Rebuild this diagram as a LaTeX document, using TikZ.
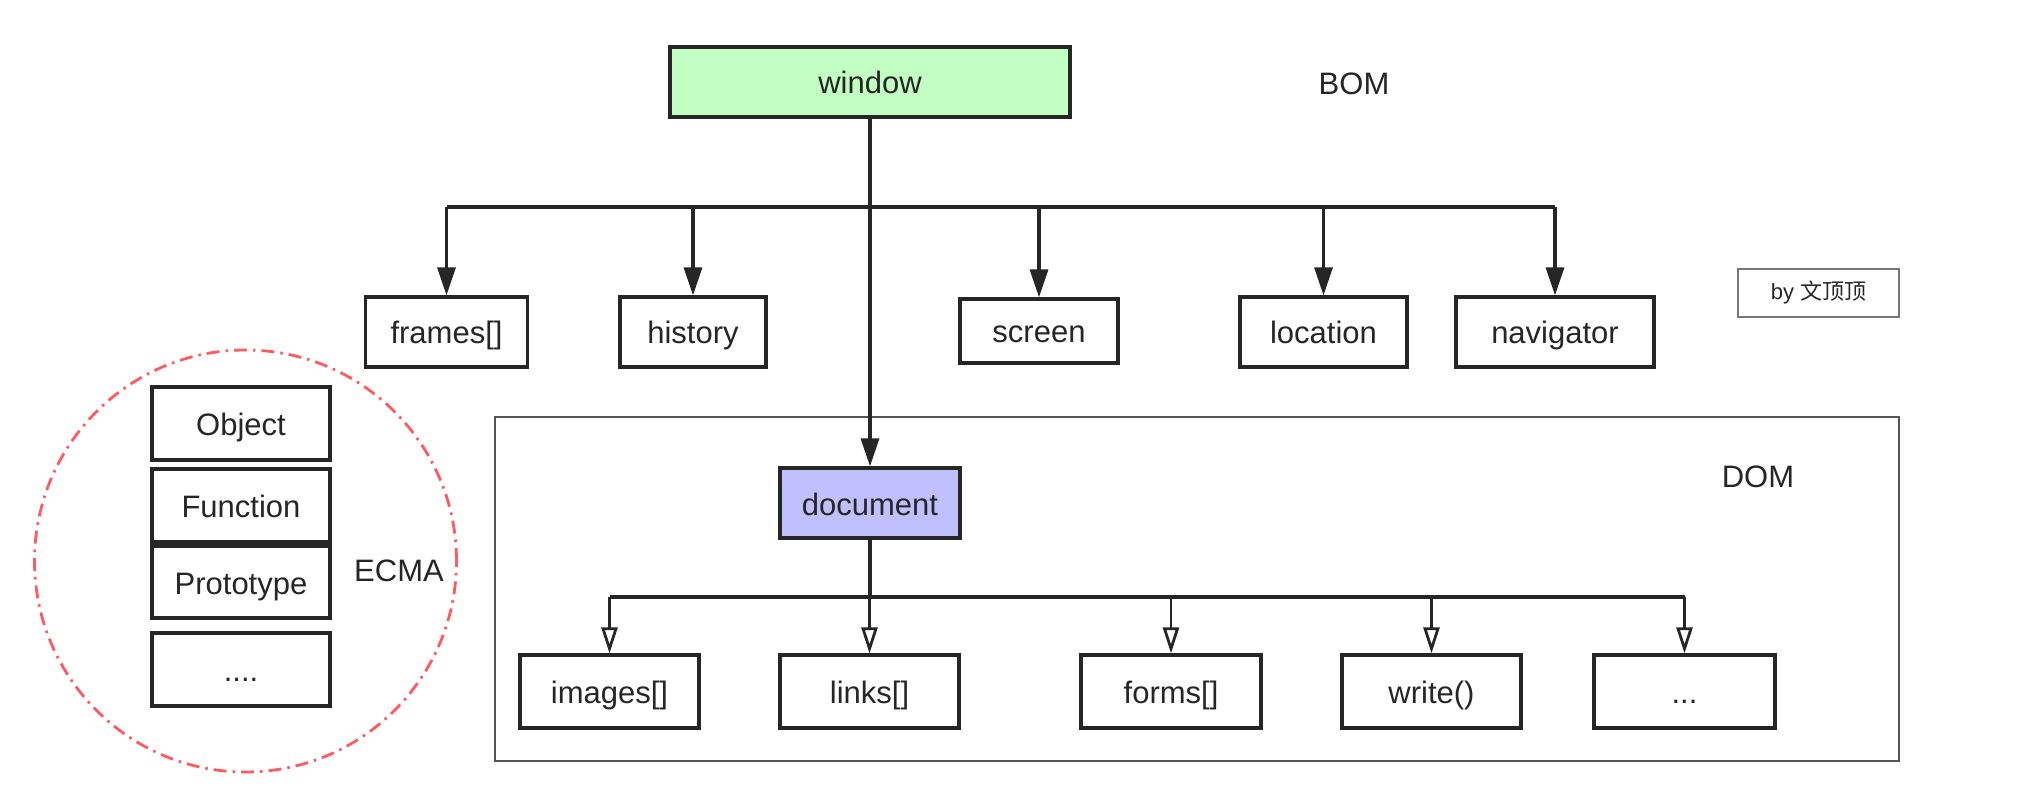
\documentclass[tikz,border=0pt]{standalone}
\usepackage{fontspec}
\setmainfont{Liberation Sans}
\newfontfamily\cjk{Noto Sans CJK SC}
\usetikzlibrary{arrows.meta}
\definecolor{ink}{HTML}{262626}
\definecolor{wingreen}{HTML}{C2FFC2}
\definecolor{doclav}{HTML}{C0C0FF}
\definecolor{ecmared}{HTML}{FF5A60}
\definecolor{frame}{HTML}{555555}
\begin{document}
\begin{tikzpicture}[x=1pt,y=-1pt,
  txt/.style={font=\fontsize{31}{36}\selectfont, text=ink, text height=27pt, text depth=3pt},
  box/.style={txt, draw=ink, line width=3.2pt, fill=white, minimum width=#1, minimum height=70pt,
    inner sep=0pt},
  lbl/.style={txt, inner sep=0pt},
  conn/.style={draw=ink, line width=3.2pt},
  farrow/.style={conn, -{Triangle[length=28pt,width=18pt]}},
  oarrow/.style={draw=ink, line width=2.8pt, -{Triangle[open,length=26pt,width=16pt,fill=white]}},
]
\useasboundingbox (0,0) rectangle (2030,810);

% DOM container
\node[draw=frame, line width=2pt, minimum width=1404pt, minimum height=344pt, inner sep=0pt] (domframe) at (1197,589) {};
\node[lbl] (domlbl) at (1758,475) {DOM};

% ECMA circle
\node[draw=ecmared, line width=2.8pt, circle, minimum size=422pt, inner sep=0pt,
  dash pattern=on 13pt off 6pt on 2.5pt off 6pt] (ecma) at (245.5,561) {};
\node[lbl] (ecmalbl) at (399,569) {ECMA};
\node[box=178pt, minimum height=73pt] (object) at (241,423.5) {Object};
\node[box=178pt, minimum height=73pt] (function) at (241,505.5) {Function};
\node[box=178pt, minimum height=72pt] (prototype) at (241,582) {Prototype};
\node[box=178pt, minimum height=73pt] (edots) at (241,669.5) {....};

% BOM
\node[box=400pt, fill=wingreen] (window) at (870,82) {window};
\node[lbl] (bomlbl) at (1354,82.5) {BOM};
\node[box=162pt] (frames) at (446.5,332) {frames[]};
\node[box=146pt] (history) at (693,332) {history};
\node[box=158pt, minimum height=64pt] (screen) at (1039,331) {screen};
\node[box=167pt] (location) at (1323.5,332) {location};
\node[box=198pt] (navigator) at (1555,332) {navigator};
\node[draw=frame!80, line width=1.8pt, minimum width=161pt, minimum height=48pt, inner sep=0pt,
  font=\fontsize{22}{26}\selectfont, text=ink, text height=18pt, text depth=4pt] (by) at (1818.5,293) {by {\cjk 文顶顶}};

\coordinate (wbus) at (870,207);
\draw[conn, line width=3.8pt] (window.south) -- (wbus);
\draw[conn] (frames.north |- wbus) -- (navigator.north |- wbus);
\draw[farrow] (frames.north |- wbus) -- (frames.north);
\draw[farrow] (history.north |- wbus) -- (history.north);
\draw[farrow] (screen.north |- wbus) -- (screen.north);
\draw[farrow] (location.north |- wbus) -- (location.north);
\draw[farrow] (navigator.north |- wbus) -- (navigator.north);

% document
\node[box=180pt, fill=doclav] (document) at (870,503) {document};
\draw[farrow] (wbus) -- (document.north);

\node[box=179pt, minimum height=73pt] (images) at (609.5,691.5) {images[]};
\node[box=179pt, minimum height=73pt] (links) at (869.5,691.5) {links[]};
\node[box=180pt, minimum height=73pt] (forms) at (1171,691.5) {forms[]};
\node[box=179pt, minimum height=73pt] (write) at (1431.5,691.5) {write()};
\node[box=181pt, minimum height=73pt] (ddots) at (1684.5,691.5) {...};

\coordinate (dbus) at (870,597);
\draw[conn, line width=3.6pt] (document.south) -- (dbus);
\draw[conn] (images.north |- dbus) -- (ddots.north |- dbus);
\draw[oarrow] (images.north |- dbus) -- (images.north);
\draw[oarrow] (links.north |- dbus) -- (links.north);
\draw[oarrow] (forms.north |- dbus) -- (forms.north);
\draw[oarrow] (write.north |- dbus) -- (write.north);
\draw[oarrow] (ddots.north |- dbus) -- (ddots.north);
\end{tikzpicture}
\end{document}
